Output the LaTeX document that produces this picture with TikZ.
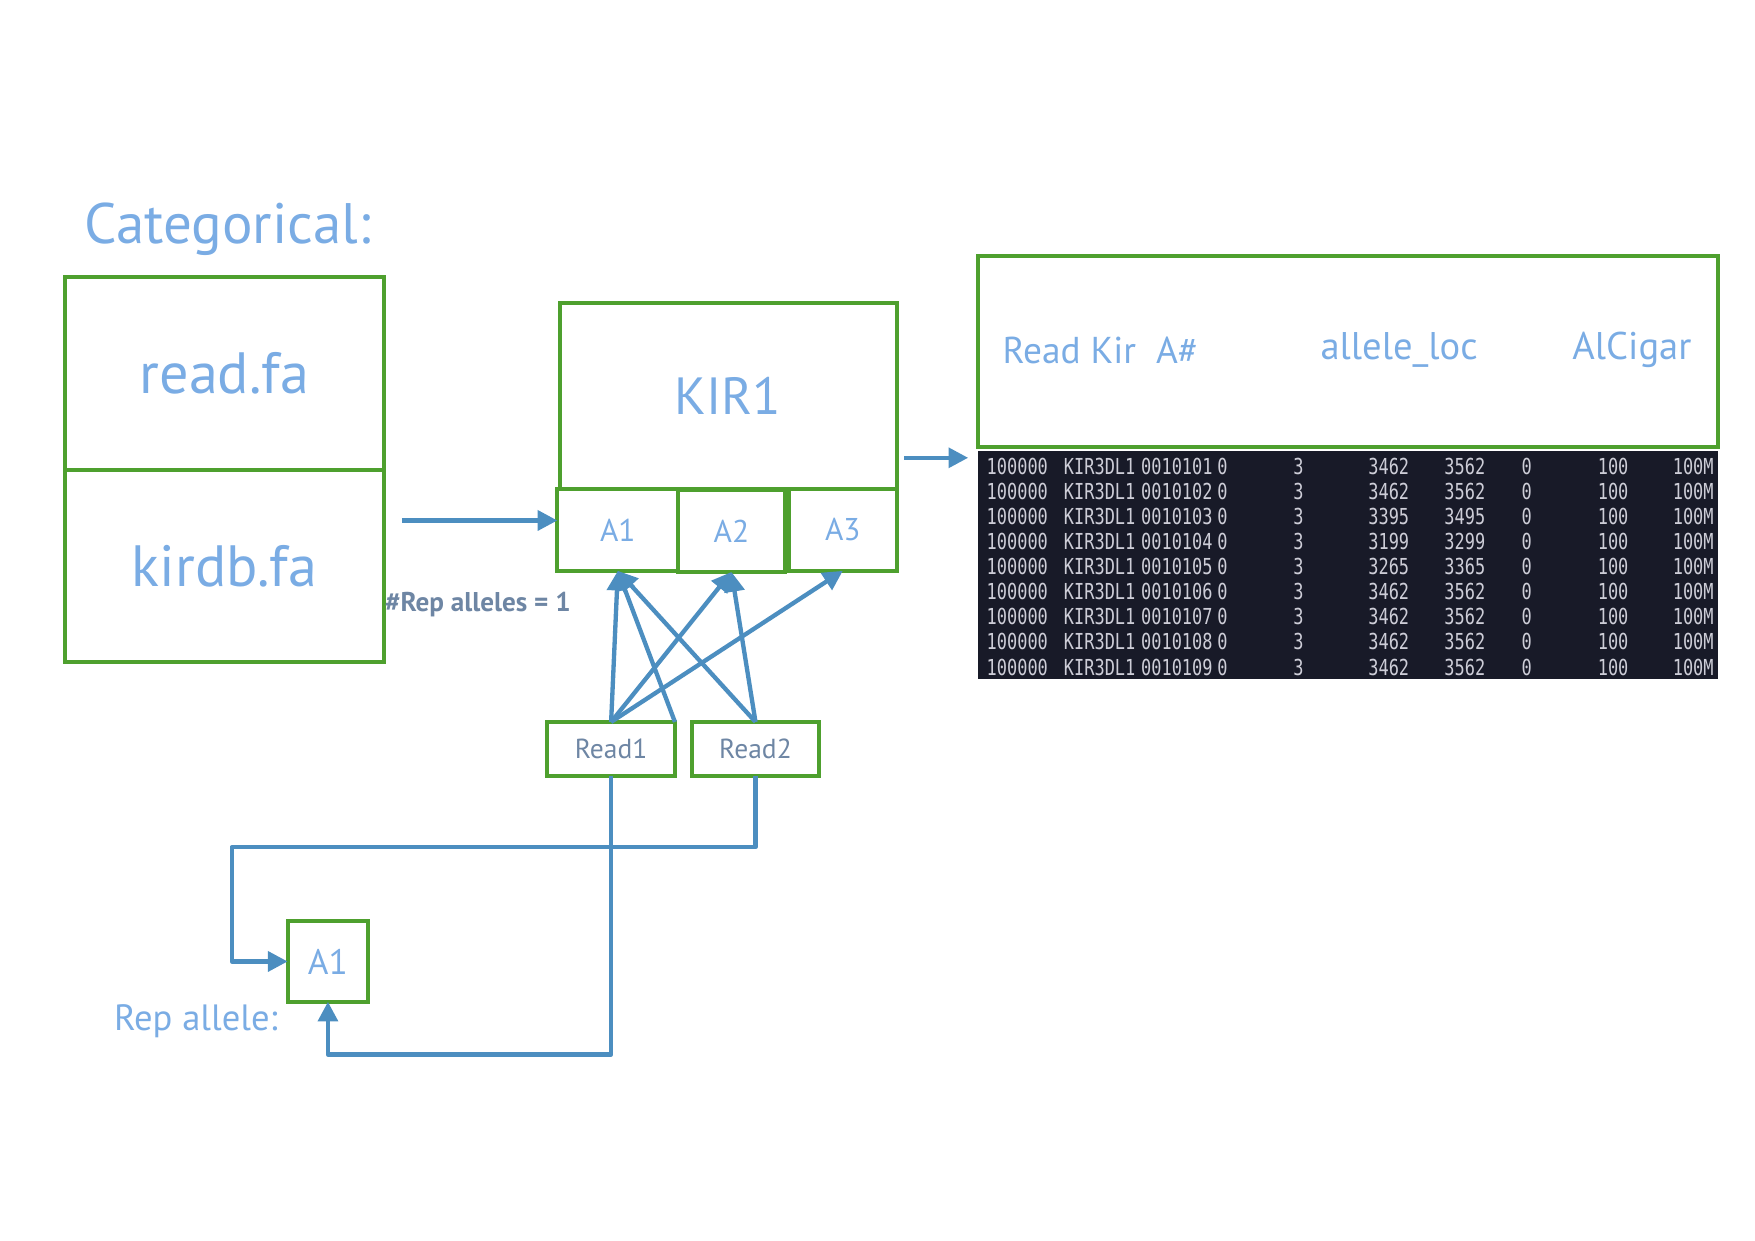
\documentclass[tikz,border=0pt]{standalone}
\usepackage{fontspec}
\setmainfont{PT Sans}
\newfontfamily\monofont{DejaVu Sans Mono}
\usetikzlibrary{arrows.meta,positioning}

\definecolor{boxgreen}{RGB}{78,160,46}
\definecolor{linkblue}{RGB}{76,142,192}
\definecolor{labelblue}{RGB}{122,172,228}
\definecolor{notegray}{RGB}{110,134,164}
\definecolor{termbg}{RGB}{24,26,40}
\definecolor{termtext}{RGB}{205,205,215}

\tikzset{
  gbox/.style={draw=boxgreen, line width=1pt, outer sep=0pt, inner sep=0pt, text=labelblue},
  filebox/.style={gbox, minimum width=2.85cm, minimum height=1.72cm, font=\fontsize{14.8}{17}\selectfont},
  allelebox/.style={gbox, minimum height=0.73cm, font=\fontsize{8}{9}\selectfont},
  readbox/.style={gbox, minimum width=1.14cm, minimum height=0.48cm, text=notegray, font=\fontsize{7}{8}\selectfont},
  link/.style={draw=linkblue, line width=1.1pt, line join=round, -{Triangle[length=5pt,width=5pt]}},
  cell/.style={anchor=base west, inner sep=0pt, text=termtext, font=\monofont\fontsize{5.6}{6}\selectfont, xscale=0.77}
}

\begin{document}
\begin{tikzpicture}
  \useasboundingbox (0,0) rectangle (15.68,-11.087);

  % Title
  \node[anchor=west, inner sep=0pt, text=labelblue, font=\fontsize{14.5}{16}\selectfont] (title) at (0.75,-2.05) {Categorical:};

  % Input files
  \node[filebox] (readfa) at (2.005,-3.335) {read.fa};
  \node[filebox, below=0pt of readfa] (kirdb) {kirdb.fa};

  % KIR1 and its alleles
  \node[gbox, minimum width=3.01cm, minimum height=1.66cm, font=\fontsize{13.3}{15}\selectfont] (kir1) at (6.505,-3.54) {KIR1};
  \node[allelebox, minimum width=1.08cm] (a1) at (5.52,-4.735) {A1};
  \node[allelebox, minimum width=0.95cm] (a2) at (6.535,-4.745) {A2};
  \node[allelebox, minimum width=0.96cm] (a3) at (7.53,-4.735) {A3};
  \node[text=notegray, font=\bfseries\fontsize{6.9}{8}\selectfont] (nrep) at (4.27,-5.40) {\#Rep alleles = 1};

  % Reads
  \node[readbox] (read1) at (5.46,-6.69) {Read1};
  \node[readbox] (read2) at (6.75,-6.69) {Read2};

  % Representative allele
  \node[gbox, minimum width=0.72cm, minimum height=0.72cm, font=\fontsize{9}{10}\selectfont] (repa) at (2.93,-8.59) {A1};
  \node[text=labelblue, font=\fontsize{9.3}{11}\selectfont] (replbl) at (1.75,-9.12) {Rep allele:};

  % Output table
  \node[gbox, minimum width=6.61cm, minimum height=1.70cm] (head) at (12.045,-3.14) {};
  \node[text=labelblue, inner sep=0pt, font=\fontsize{9.5}{12}\selectfont, anchor=west] (h1) at (8.95,-3.13) {Read Kir\ \ A\#};
  \node[text=labelblue, font=\fontsize{9.8}{12}\selectfont] (h2) at (12.50,-3.13) {allele\_loc};
  \node[text=labelblue, font=\fontsize{9.8}{12}\selectfont] (h3) at (14.58,-3.13) {AlCigar};
  \node[fill=termbg, minimum width=6.61cm, minimum height=2.04cm, inner sep=0pt] (term) at (12.045,-5.05) {};
  \foreach \i/\s/\e in {1/3462/3562, 2/3462/3562, 3/3395/3495, 4/3199/3299, 5/3265/3365,
                        6/3462/3562, 7/3462/3562, 8/3462/3562, 9/3462/3562} {
    \pgfmathsetmacro\y{-4.235-0.2245*(\i-1)}
    \node[cell] (r\i c1) at (8.81,\y) {100000};
    \node[cell] (r\i c2) at (9.50,\y) {KIR3DL1};
    \node[cell] (r\i c3) at (10.19,\y) {001010\i};
    \node[cell] (r\i c4) at (10.87,\y) {0};
    \node[cell] (r\i c5) at (11.55,\y) {3};
    \node[cell] (r\i c6) at (12.22,\y) {\s};
    \node[cell] (r\i c7) at (12.90,\y) {\e};
    \node[cell] (r\i c8) at (13.59,\y) {0};
    \node[cell] (r\i c9) at (14.27,\y) {100};
    \node[cell] (r\i c10) at (14.94,\y) {100M};
  }

  % Arrows
  \coordinate (in1) at (3.59,-4.65);
  \draw[link] (in1) -- (in1 -| a1.west);
  \coordinate (out1) at (8.08,-4.09);
  \coordinate (out2) at (8.65,-4.09);
  \draw[link] (out1) -- (out2);

  \draw[link] (read1.north) -- (a1.south);
  \draw[link] (read1.north) -- (a2.south);
  \draw[link] (read1.north) -- (a3.south);
  \draw[link] (read1.north east) -- (a1.south);
  \draw[link] (read2.north) -- (a1.south);
  \draw[link] (read2.north) -- (a2.south);

  % Paths to the rep allele
  \coordinate (low) at (5.46,-9.42);
  \coordinate (bend) at (2.07,-7.57);
  \draw[link] (read1.south) -- (low) -| (repa.south);
  \draw[link] (read2.south) |- (bend) |- (repa.west);
\end{tikzpicture}
\end{document}
